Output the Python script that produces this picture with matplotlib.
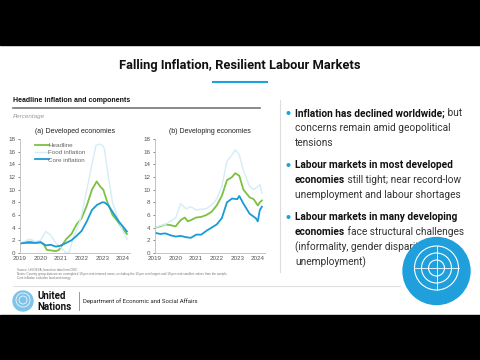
import matplotlib
matplotlib.use("Agg")
import matplotlib.pyplot as plt
from matplotlib.patches import Rectangle, Ellipse

W, H = 480, 360

# ---- data ----
years = [2019, 2020, 2021, 2022, 2023, 2024]
yticks = [0, 2, 4, 6, 8, 10, 12, 14, 16, 18]

dev_head_t = [2019.0, 2019.25, 2019.5, 2019.75, 2020.0, 2020.15, 2020.3, 2020.5, 2020.75, 2020.9,
              2021.0, 2021.25, 2021.5, 2021.75, 2022.0, 2022.25, 2022.5, 2022.73, 2022.9, 2023.05,
              2023.25, 2023.5, 2023.75, 2024.0, 2024.2]
dev_head = [1.5, 1.7, 1.8, 1.6, 1.7, 1.4, 0.5, 0.4, 0.3, 0.5,
            1.0, 2.2, 3.0, 4.5, 5.5, 7.5, 10.0, 11.3, 10.5, 10.0,
            8.0, 6.0, 5.0, 3.8, 3.0]

dev_food_t = [2019.0, 2019.25, 2019.5, 2019.75, 2020.0, 2020.25, 2020.5, 2020.75, 2021.0, 2021.25,
              2021.4, 2021.6, 2021.8, 2022.0, 2022.25, 2022.5, 2022.7, 2022.85, 2023.0, 2023.1,
              2023.3, 2023.5, 2023.75, 2024.0, 2024.2]
dev_food = [1.5, 1.9, 2.2, 1.8, 2.0, 3.4, 2.8, 1.5, 0.8, 0.0,
            0.2, 2.5, 4.0, 6.0, 10.0, 14.0, 17.0, 17.2, 17.0, 16.5,
            12.0, 8.0, 5.5, 3.5, 2.2]

dev_core_t = [2019.0, 2019.25, 2019.5, 2019.75, 2020.0, 2020.25, 2020.5, 2020.75, 2021.0, 2021.25,
              2021.5, 2021.75, 2022.0, 2022.25, 2022.5, 2022.75, 2023.0, 2023.1, 2023.3, 2023.6,
              2023.8, 2024.0, 2024.2]
dev_core = [1.5, 1.6, 1.6, 1.6, 1.7, 1.2, 1.3, 1.0, 1.2, 1.6,
            2.0, 2.7, 3.5, 5.0, 6.8, 7.6, 8.0, 8.0, 7.5, 6.0,
            5.0, 4.2, 3.4]

dvg_head_t = [2019.0, 2019.25, 2019.5, 2019.75, 2020.0, 2020.25, 2020.45, 2020.6, 2020.75, 2021.0,
              2021.25, 2021.5, 2021.75, 2022.0, 2022.25, 2022.5, 2022.75, 2022.9, 2023.1, 2023.3,
              2023.6, 2023.8, 2024.0, 2024.1, 2024.2]
dvg_head = [4.0, 4.2, 4.5, 4.4, 4.2, 5.2, 5.6, 5.0, 5.2, 5.6,
            5.7, 6.0, 6.5, 7.5, 9.0, 11.5, 12.0, 12.6, 12.2, 10.0,
            8.8, 8.5, 7.5, 8.0, 8.3]

dvg_food_t = [2019.0, 2019.25, 2019.5, 2019.75, 2020.0, 2020.25, 2020.5, 2020.75, 2021.0, 2021.25,
              2021.5, 2021.75, 2022.0, 2022.25, 2022.5, 2022.75, 2022.9, 2023.1, 2023.3, 2023.6,
              2023.8, 2024.0, 2024.1, 2024.2]
dvg_food = [4.0, 4.3, 4.5, 5.0, 5.5, 7.8, 7.0, 7.3, 6.8, 6.9,
            7.0, 7.6, 8.5, 10.5, 14.5, 15.5, 16.3, 15.5, 13.0, 10.5,
            10.0, 10.5, 10.8, 9.5]

dvg_core_t = [2019.0, 2019.25, 2019.5, 2019.75, 2020.0, 2020.25, 2020.5, 2020.75, 2021.0, 2021.25,
              2021.5, 2021.75, 2022.0, 2022.25, 2022.5, 2022.75, 2023.0, 2023.1, 2023.3, 2023.6,
              2023.9, 2024.0, 2024.1, 2024.2]
dvg_core = [3.2, 3.0, 3.1, 2.8, 2.6, 2.7, 2.5, 2.4, 2.9, 2.9,
            3.5, 4.0, 4.5, 5.5, 8.0, 8.6, 8.5, 9.0, 7.8, 6.2,
            5.5, 5.0, 6.8, 7.3]

labels = ["Headline", "Food inflation", "Core inflation"]
green = "#7dc142"
food_c = "#d4edf7"
core_c = "#1a9ad6"

bullets = [
    ("Inflation has declined worldwide;", " but",
     ["concerns remain amid geopolitical", "tensions"]),
    ("Labour markets in most developed", "",
     ["economies|| still tight; near record-low", "unemployment and labour shortages"]),
    ("Labour markets in many developing", "",
     ["economies|| face structural challenges", "(informality, gender disparities,", "unemployment)"]),
]

plt.rcParams['font.family'] = ['Roboto', 'DejaVu Sans']
fig = plt.figure(figsize=(W / 100, H / 100), dpi=100)


def fx(x):
    return x / W


def fy(y):
    return 1 - y / H


def disc(x, y, r, **kw):
    # round patch given in pixel units
    fig.patches.append(Ellipse((fx(x), fy(y)), 2 * r / W, 2 * r / H, transform=fig.transFigure, **kw))


# black letterbox bars
fig.patches.append(Rectangle((0, 0), 1, fy(315), transform=fig.transFigure, color="black", zorder=-1))
fig.patches.append(Rectangle((0, fy(45)), 1, 1 - fy(45), transform=fig.transFigure, color="black", zorder=-1))

fig.text(fx(240), fy(65), "Falling Inflation, Resilient Labour Markets", ha="center", va="center",
         fontsize=9.3, fontweight="bold", color="#111111")
fig.add_artist(plt.Line2D([fx(213), fx(267)], [fy(82), fy(82)], color="#1ba3dc", lw=1.5))

fig.text(fx(13), fy(100), "Headline inflation and components", fontsize=5, fontweight="bold",
         va="center", color="#111111", family=["Liberation Sans"])
fig.add_artist(plt.Line2D([fx(13), fx(260)], [fy(108), fy(108)], color="#777777", lw=1.2))
fig.text(fx(13), fy(117), "Percentage", fontsize=4.5, style="italic", va="center", color="#999999",
         family=["Liberation Sans"])


def panel(left, title, series, legend):
    ax = fig.add_axes([fx(left), fy(253), fx(110), 114 / H])
    for (t, v), c, lab in zip(series, [green, food_c, core_c], labels):
        ax.plot(t, v, color=c, lw=1.3 if c != food_c else 1.0, label=lab)
    ax.set_xlim(2019, 2024.35)
    ax.set_ylim(0, 18)
    ax.set_xticks(years)
    ax.set_yticks(yticks)
    for s in ["top", "right"]:
        ax.spines[s].set_visible(False)
    for s in ["left", "bottom"]:
        ax.spines[s].set_color("#bbbbbb")
        ax.spines[s].set_linewidth(0.6)
    ax.tick_params(labelsize=4.5, colors="#555555", length=1.5, width=0.5, pad=2)
    ax.tick_params(axis="x", length=0)
    for lb in ax.get_xticklabels() + ax.get_yticklabels():
        lb.set_family("Liberation Sans")
    ax.set_title(title, fontsize=5, color="#222222", pad=4, family="Liberation Sans")
    if legend:
        lg = ax.legend(loc="upper left", fontsize=4.5, frameon=False, handlelength=2.2,
                       handletextpad=0.0, borderaxespad=0.2, labelspacing=0.3,
                       prop={"family": "Liberation Sans", "size": 4.5}, bbox_to_anchor=(0.1, 1.0))
        for txt in lg.get_texts():
            txt.set_color("#666666")
    return ax


panel(20, "(a) Developed economies",
      [(dev_head_t, dev_head), (dev_food_t, dev_food), (dev_core_t, dev_core)], True)
panel(155, "(b) Developing economies",
      [(dvg_head_t, dvg_head), (dvg_food_t, dvg_food), (dvg_core_t, dvg_core)], False)

# source notes
fig.text(fx(17), fy(271), "Source: UN DESA, based on data from CEIC.", fontsize=2.2, color="#777777",
         family=["Liberation Sans"])
fig.text(fx(17), fy(275), "Notes: Country group data are an unweighted 10 per cent trimmed mean, excluding the 10 per cent largest and 10 per cent smallest values from the sample.",
         fontsize=2.2, color="#777777", family=["Liberation Sans"])
fig.text(fx(17), fy(279), "Core inflation excludes food and energy.", fontsize=2.2, color="#777777",
         family=["Liberation Sans"])

# divider and bullets
fig.add_artist(plt.Line2D([fx(280), fx(280)], [fy(100), fy(272)], color="#dddddd", lw=0.8))
y = 113
for bold, rest, more in bullets:
    disc(288.5, y, 1.3, color="#1ba3dc")
    t = fig.text(fx(295), fy(y), bold, fontsize=7.3, fontweight="bold", va="center", color="#111111")
    if rest:
        fig.canvas.draw()
        bb = t.get_window_extent()
        fig.text(bb.x1 / W, fy(y), rest, fontsize=7.3, va="center", color="#333333")
    for line in more:
        y += 15
        if "||" in line:
            b, r = line.split("||")
            t2 = fig.text(fx(295), fy(y), b, fontsize=7.3, fontweight="bold", va="center", color="#111111")
            fig.canvas.draw()
            bb = t2.get_window_extent()
            fig.text(bb.x1 / W, fy(y), r, fontsize=7.3, va="center", color="#333333")
        else:
            fig.text(fx(295), fy(y), line, fontsize=7.3, va="center", color="#333333")
    y += 22

# footer
fig.add_artist(plt.Line2D([fx(13), fx(400)], [fy(286), fy(286)], color="#e2e2e2", lw=0.8))
disc(23, 301, 10, color="#7fc4e8")
for r in [7, 4]:
    disc(23, 300, r, fill=False, ec="white", lw=0.5)
fig.text(fx(37), fy(296), "United", fontsize=7, fontweight="bold", va="center", color="#111111")
fig.text(fx(37), fy(307), "Nations", fontsize=7, fontweight="bold", va="center", color="#111111")
fig.add_artist(plt.Line2D([fx(79), fx(79)], [fy(292), fy(310)], color="#888888", lw=0.6))
fig.text(fx(83), fy(301), "Department of Economic and Social Affairs", fontsize=4.3, va="center",
         color="#222222")

# UN emblem circle
disc(436.5, 271, 33.5, color="#1fa0dc", zorder=5)
for r in [22, 15, 8]:
    disc(436.5, 268, r, fill=False, ec="white", lw=0.8, zorder=6)
fig.add_artist(plt.Line2D([fx(414.5), fx(458.5)], [fy(268), fy(268)], color="white", lw=0.6, zorder=6))
fig.add_artist(plt.Line2D([fx(436.5), fx(436.5)], [fy(246), fy(290)], color="white", lw=0.6, zorder=6))

fig.savefig("out.png", dpi=100)
